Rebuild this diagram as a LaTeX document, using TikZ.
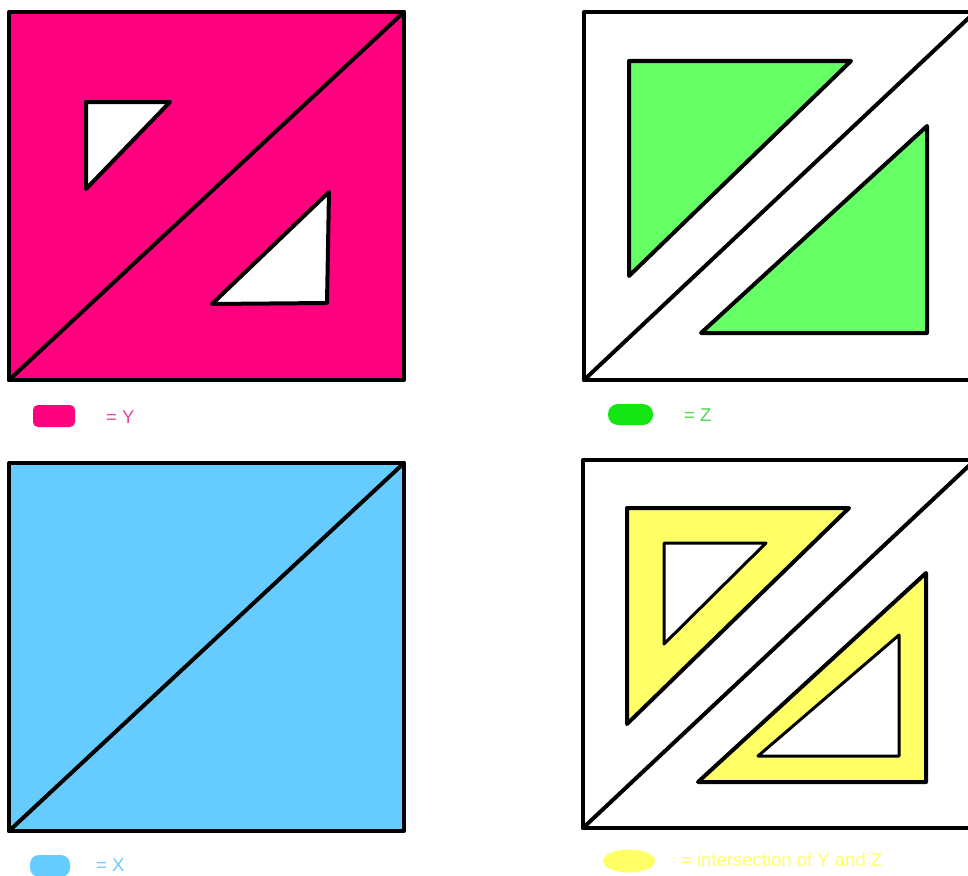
\documentclass[tikz,border=0pt]{standalone}
\usepackage{fontspec}
\setmainfont{Liberation Sans}
\definecolor{pinkY}{RGB}{255,0,127}
\definecolor{pinkT}{RGB}{225,70,160}
\definecolor{blueX}{RGB}{102,204,255}
\definecolor{greenZ}{RGB}{102,255,102}
\definecolor{greenL}{RGB}{20,230,20}
\definecolor{greenT}{RGB}{80,215,80}
\definecolor{yellowI}{RGB}{255,255,102}
\tikzset{
  outline/.style={draw=black, line width=4pt, line join=round, line cap=round},
  legtext/.style={anchor=west, inner sep=0pt, font=\fontsize{18.5}{22}\selectfont}
}
\begin{document}
\begin{tikzpicture}[x=1pt,y=-1pt]
\useasboundingbox (0,0) rectangle (968,875);
\fill[white] (0,0) rectangle (968,875);
\clip (0,0) rectangle (968,875);

% ---- Y (pink) ----
\fill[pinkY] (9,12) rectangle (404,380);
\filldraw[fill=white, outline] (86,102) -- (170,102) -- (86,189) -- cycle;
\filldraw[fill=white, outline] (329,192) -- (327,303) -- (212,304) -- cycle;
\draw[outline] (9,12) rectangle (404,380);
\draw[outline] (9,380) -- (404,12);
\fill[pinkY, rounded corners=5pt] (33,405) rectangle (75,427);
\node[legtext, text=pinkT] (ly) at (106,417) {= Y};

% ---- Z (green) ----
\filldraw[fill=greenZ, outline] (629,61) -- (851,61) -- (629,276) -- cycle;
\filldraw[fill=greenZ, outline] (927,126) -- (927,333) -- (701,333) -- cycle;
\draw[outline] (584,12) rectangle (975,380);
\draw[outline] (584,380) -- (975,12);
\fill[greenL, rounded corners=10pt] (608,404) rectangle (653,425);
\node[legtext, text=greenT] (lz) at (684,415) {= Z};

% ---- X (blue) ----
\fill[blueX] (9,463) rectangle (404,831);
\draw[outline] (9,463) rectangle (404,831);
\draw[outline] (9,831) -- (404,463);
\fill[blueX, rounded corners=9pt] (30,855) rectangle (70,877);
\node[legtext, text=blueX] (lx) at (96,865) {= X};

% ---- intersection (yellow) ----
\filldraw[fill=yellowI, outline] (627,508) -- (849,508) -- (627,724) -- cycle;
\filldraw[fill=white, outline, line width=3pt] (664,543) -- (766,543) -- (664,644) -- cycle;
\filldraw[fill=yellowI, outline] (926,573) -- (926,782) -- (698,782) -- cycle;
\filldraw[fill=white, outline, line width=3pt] (899,635) -- (899,756) -- (758,756) -- cycle;
\draw[outline] (583,460) rectangle (975,828);
\draw[outline] (583,828) -- (975,460);
\fill[yellowI] (629,861) ellipse (26 and 11.5);
\node[legtext, text=yellowI] (li) at (681,860) {= intersection of Y and Z};
\end{tikzpicture}
\end{document}
